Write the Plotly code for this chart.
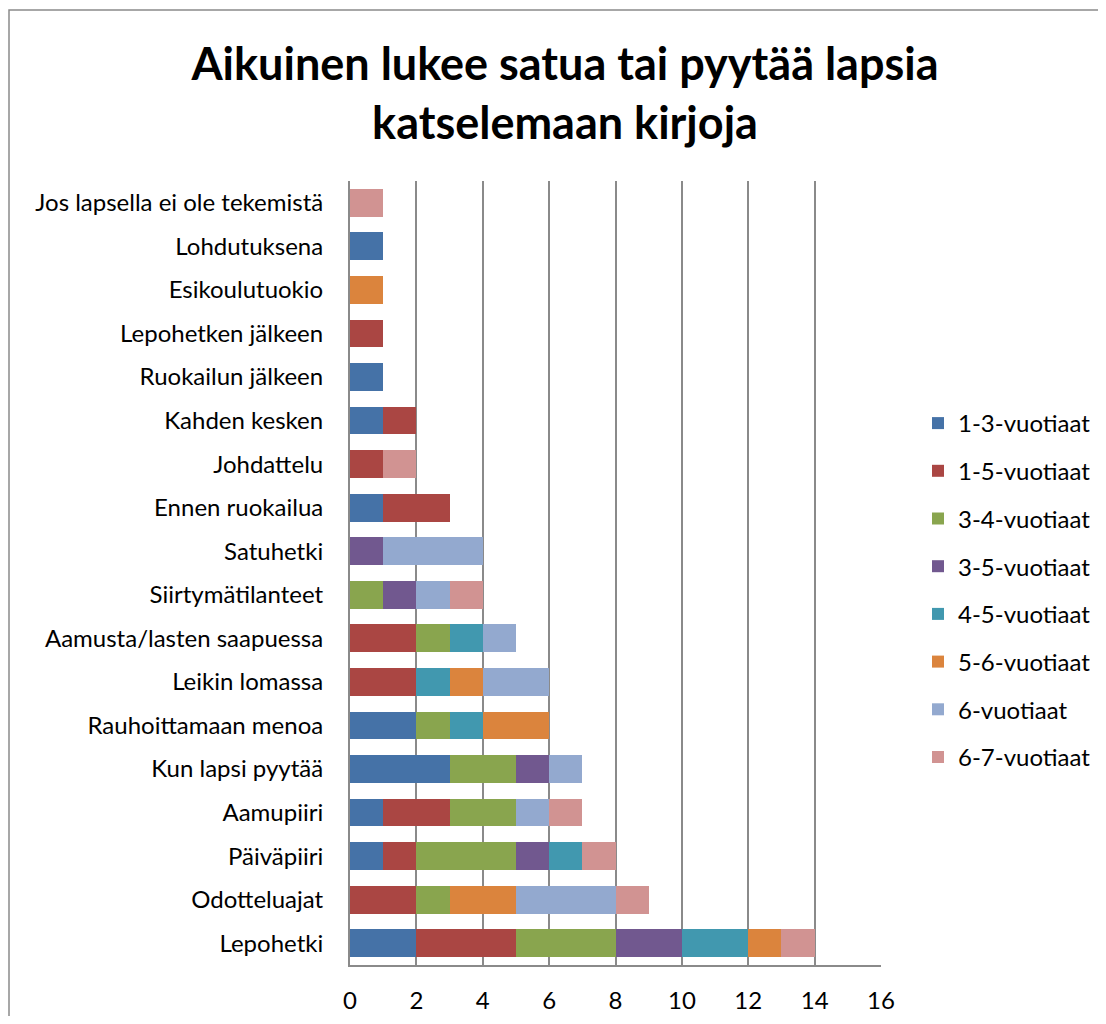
import plotly.graph_objects as go

categories = ["Lepohetki", "Odotteluajat", "Päiväpiiri", "Aamupiiri", "Kun lapsi pyytää",
              "Rauhoittamaan menoa", "Leikin lomassa", "Aamusta/lasten saapuessa",
              "Siirtymätilanteet", "Satuhetki", "Ennen ruokailua", "Johdattelu",
              "Kahden kesken", "Ruokailun jälkeen", "Lepohetken jälkeen", "Esikoulutuokio",
              "Lohdutuksena", "Jos lapsella ei ole tekemistä"]

series_names = ["1-3-vuotiaat", "1-5-vuotiaat", "3-4-vuotiaat", "3-5-vuotiaat",
                "4-5-vuotiaat", "5-6-vuotiaat", "6-vuotiaat", "6-7-vuotiaat"]

v_1_3 = [2, 0, 1, 1, 3, 2, 0, 0, 0, 0, 1, 0, 1, 1, 0, 0, 1, 0]
v_1_5 = [3, 2, 1, 2, 0, 0, 2, 2, 0, 0, 2, 1, 1, 0, 1, 0, 0, 0]
v_3_4 = [3, 1, 3, 2, 2, 1, 0, 1, 1, 0, 0, 0, 0, 0, 0, 0, 0, 0]
v_3_5 = [2, 0, 1, 0, 1, 0, 0, 0, 1, 1, 0, 0, 0, 0, 0, 0, 0, 0]
v_4_5 = [2, 0, 1, 0, 0, 1, 1, 1, 0, 0, 0, 0, 0, 0, 0, 0, 0, 0]
v_5_6 = [1, 2, 0, 0, 0, 2, 1, 0, 0, 0, 0, 0, 0, 0, 0, 1, 0, 0]
v_6   = [0, 3, 0, 1, 1, 0, 2, 1, 1, 3, 0, 0, 0, 0, 0, 0, 0, 0]
v_6_7 = [1, 1, 1, 1, 0, 0, 0, 0, 1, 0, 0, 1, 0, 0, 0, 0, 0, 1]

series_values = [v_1_3, v_1_5, v_3_4, v_3_5, v_4_5, v_5_6, v_6, v_6_7]
colors = ["#4572A7", "#AA4643", "#89A54E", "#71588F", "#4198AF", "#DB843D", "#93A9CF", "#D19392"]

x_ticks = [0, 2, 4, 6, 8, 10, 12, 14, 16]

FONT = "Lato, Carlito, Calibri, sans-serif"

fig = go.Figure()
for name, vals, col in zip(series_names, series_values, colors):
    fig.add_trace(go.Bar(
        y=categories, x=vals, name=name, orientation="h",
        marker=dict(color=col, line=dict(width=0)),
        legendgroup=name,
    ))

# page has an 8px body margin; work in page pixels and convert
OFF = 8
W, H = 1106 - OFF, 1024 - 2 * OFF
L, R, T, B = 350 - OFF, 881 - OFF, 181 - OFF, 965 - OFF
pw, ph = R - L, B - T

def px_x(page_x):
    return (page_x - OFF - L) / pw

def px_y(page_y):
    return (B - (page_y - OFF)) / ph

def cx(page_x):
    return (page_x - OFF) / W

def cy(page_y):
    return 1 - (page_y - OFF) / H

fig.update_layout(
    width=W, height=H,
    autosize=False,
    margin=dict(l=L, r=W - R, t=T, b=H - B, pad=0, autoexpand=False),
    barmode="stack",
    bargap=0.36,
    paper_bgcolor="white",
    plot_bgcolor="white",
    font=dict(family=FONT, size=24, color="#000000"),
    title=dict(
        text="<b>Aikuinen lukee satua tai pyytää lapsia<br>katselemaan kirjoja</b>",
        font=dict(family=FONT, size=45, color="#000000"),
        x=cx(565), xanchor="center",
        y=cy(80), yanchor="middle",
    ),
    showlegend=True,
    legend=dict(
        xref="container", yref="container",
        x=cx(918), xanchor="left",
        y=cy(401), yanchor="top",
        traceorder="grouped",
        tracegroupgap=13.5,
        font=dict(family=FONT, size=24, color="#000000"),
        bgcolor="rgba(0,0,0,0)",
    ),
    xaxis=dict(
        range=[0, 16],
        tickvals=x_ticks,
        ticktext=[str(t) for t in x_ticks],
        showgrid=True, gridcolor="#8A8A8A", gridwidth=2,
        showline=True, linecolor="#8A8A8A", linewidth=2,
        zeroline=False,
        ticks="outside", ticklen=13, tickcolor="rgba(0,0,0,0)",
        tickfont=dict(family=FONT, size=24, color="#000000"),
        fixedrange=True,
    ),
    yaxis=dict(
        type="category",
        categoryorder="array", categoryarray=categories,
        showgrid=False,
        showline=True, linecolor="#8A8A8A", linewidth=2,
        ticks="outside", ticklen=20, tickcolor="rgba(0,0,0,0)",
        tickfont=dict(family=FONT, size=24, color="#000000"),
        fixedrange=True,
    ),
    shapes=[dict(
        type="rect", xref="paper", yref="paper",
        x0=px_x(9), x1=px_x(1130), y0=px_y(1050), y1=px_y(10),
        line=dict(color="#8A8A8A", width=1.5),
        fillcolor="rgba(0,0,0,0)", layer="below",
    )],
)

fig.write_html("out.html")
